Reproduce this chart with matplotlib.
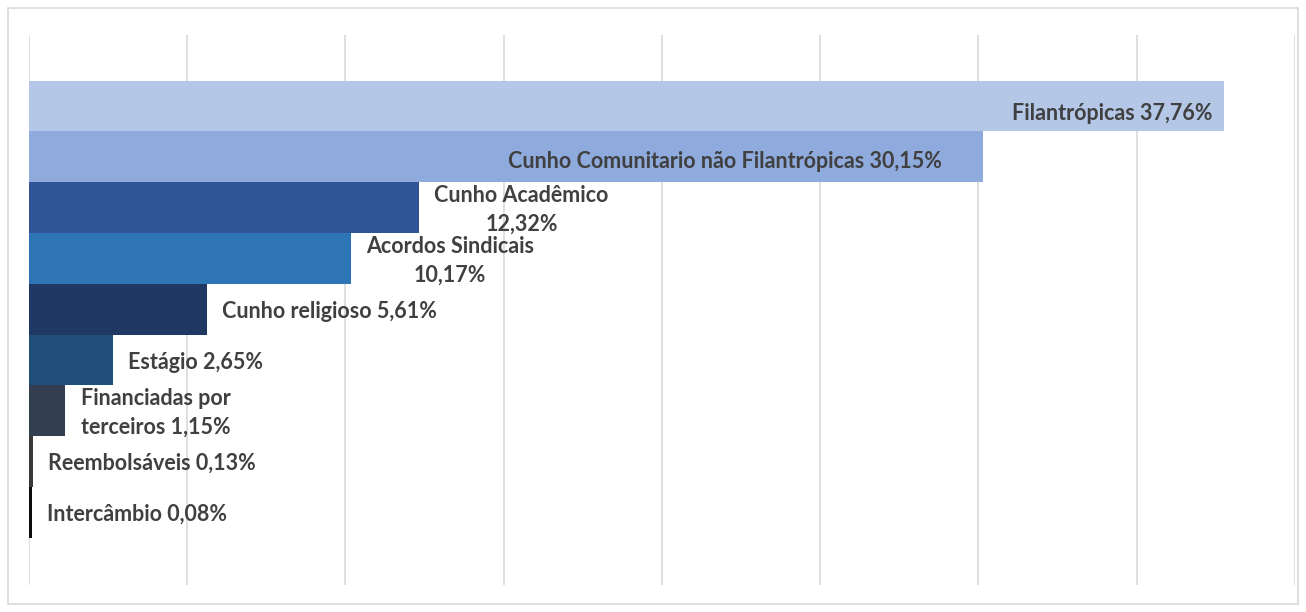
import matplotlib.pyplot as plt
from matplotlib.patches import Rectangle

plt.rcParams['font.family'] = ['Lato', 'DejaVu Sans']

# Data (top to bottom)
categories = ['Filantrópicas', 'Cunho Comunitario não Filantrópicas', 'Cunho Acadêmico',
              'Acordos Sindicais', 'Cunho religioso', 'Estágio', 'Financiadas por terceiros',
              'Reembolsáveis', 'Intercâmbio']
values = [37.76, 30.15, 12.32, 10.17, 5.61, 2.65, 1.15, 0.13, 0.08]
# how each label is broken into lines
label_text = ['Filantrópicas', 'Cunho Comunitario não Filantrópicas', 'Cunho Acadêmico\n',
              'Acordos Sindicais\n', 'Cunho religioso', 'Estágio', 'Financiadas por\nterceiros',
              'Reembolsáveis', 'Intercâmbio']
inside = [True, True, False, False, False, False, False, False, False]
colors = ['#B4C7E7', '#8FAADC', '#2F5597', '#2E75B6', '#203864', '#1F4E79',
          '#333F50', '#3B3838', '#0D0D0D']

W, H = 1306, 612
fig = plt.figure(figsize=(W / 100, H / 100), dpi=100)

# outer chart border
fig.patches.append(Rectangle((8 / W, 8 / H), 1290 / W, 596 / H, transform=fig.transFigure,
                             fill=False, edgecolor='#D9D9D9', linewidth=1.2))

ax = fig.add_axes([29 / W, (H - 585) / H, (1295 - 29) / W, (585 - 35) / H])

y = list(range(len(values)))
ax.barh(y, values, height=1.0, color=colors, zorder=2)
ax.set_xlim(0, 40)
ax.set_ylim(len(values) - 0.5 + 0.93, -0.5 - 0.9)
ax.set_xticks([0, 5, 10, 15, 20, 25, 30, 35, 40])
ax.grid(axis='x', color='#D9D9D9', linewidth=1.2, zorder=0)
ax.tick_params(left=False, bottom=False, labelleft=False, labelbottom=False)
for s in ax.spines.values():
    s.set_visible(False)

txt_color = '#404040'
inside_pad = [(-8, -5), (-30, -3)]
for i, (lab, v) in enumerate(zip(label_text, values)):
    pct = f'{v:.2f}%'.replace('.', ',')
    if lab.endswith('\n'):
        s = lab + pct
    else:
        s = lab + ' ' + pct
    if inside[i]:
        ax.annotate(s, (v, i), xytext=inside_pad[i], textcoords='offset points',
                    ha='right', va='center', fontsize=15.5, fontweight='bold', color=txt_color)
    else:
        ax.annotate(s, (v, i), xytext=(11, -1.5), textcoords='offset points',
                    ha='left', va='center', fontsize=15.5, fontweight='bold', color=txt_color,
                    multialignment='center', linespacing=1.45)

fig.savefig('out.png', dpi=100)
